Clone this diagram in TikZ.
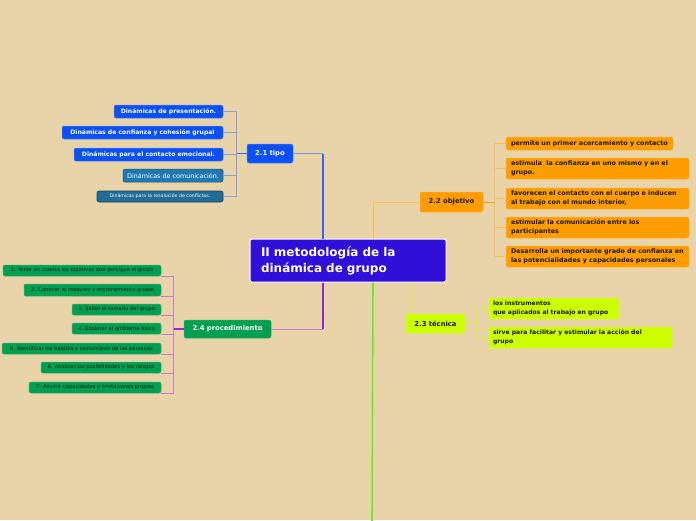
\documentclass[tikz,border=0pt]{standalone}
\usepackage{fontspec}
\setmainfont{DejaVu Sans}
\definecolor{bg}{HTML}{E8D4A8}
\definecolor{cmain}{HTML}{3010D8}
\definecolor{cblue}{HTML}{0A50F5}
\definecolor{cteal}{HTML}{1E78B4}
\definecolor{cteald}{HTML}{226C98}
\definecolor{corange}{HTML}{FF9C00}
\definecolor{clime}{HTML}{CCFF00}
\definecolor{cgreen}{HTML}{00A050}
\definecolor{lblue}{HTML}{8C9EE0}
\definecolor{linkblue}{rgb}{0.2,0.4,1}
\definecolor{lorange}{HTML}{FFBC50}
\definecolor{llime}{HTML}{D8F040}
\definecolor{linkpurple}{rgb}{0.6,0.15,0.85}
\definecolor{lpurple}{HTML}{C878D8}
\definecolor{lgreen}{HTML}{66EE22}
\definecolor{tdark}{HTML}{1A1A1A}
\tikzset{
  box/.style={rounded corners=2pt, inner sep=0pt, align=center},
  mainbox/.style={box, fill=cmain, draw=white, line width=1pt, text=white, font=\bfseries\fontsize{12}{16}\selectfont, align=left, inner xsep=11pt},
  bluebox/.style={box, fill=cblue, draw=cblue!70!white, line width=0.5pt, text=white, font=\bfseries\fontsize{6.1}{7}\selectfont},
  tealbox/.style={box, fill=cteal, draw=cteal!70!black, line width=0.5pt, text=white, font=\fontsize{6.4}{7}\selectfont},
  teal2box/.style={box, fill=cteald, draw=cteald!60!black, line width=0.6pt, text=white, font=\fontsize{4.7}{5}\selectfont},
  orbox/.style={box, fill=corange, draw=corange!80!white, line width=0.5pt, text=tdark, font=\bfseries\fontsize{6.4}{9}\selectfont},
  limebox/.style={box, fill=clime, draw=clime!80!white, line width=0.5pt, text=tdark, font=\bfseries\fontsize{6.1}{9}\selectfont},
  grbox/.style={box, fill=cgreen, draw=cgreen!80!white, line width=0.5pt, text=tdark, font=\fontsize{5.2}{6}\selectfont},
  mainlbl/.style={font=\bfseries\fontsize{6.8}{8}\selectfont},
  conn/.style={line width=0.7pt},
  mainconn/.style={line width=1.2pt},
}
\begin{document}
\begin{tikzpicture}[x=1pt,y=-1pt]
\fill[bg] (0,0) rectangle (696,520);
\useasboundingbox (0,0) rectangle (696,520);

% central
\node[mainbox, minimum width=196pt, minimum height=43pt, text width=174pt] (main) at (348,260.5) {II metodología de la\\dinámica de grupo};

% 2.1 tipo
\node[bluebox, mainlbl, minimum width=46pt, minimum height=19pt] (tipo) at (270,153.5) {2.1 tipo};
\node[bluebox, minimum width=109pt, minimum height=13pt] (a1) at (168.5,111.5) {Dinámicas de presentación.};
\node[bluebox, minimum width=161pt, minimum height=13pt] (a2) at (142.5,132.5) {Dinámicas de confianza y cohesión grupal};
\node[bluebox, minimum width=149pt, minimum height=13pt] (a3) at (148.5,154.5) {Dinámicas para el contacto emocional.};
\node[tealbox, minimum width=100pt, minimum height=13pt] (a4) at (173,175.5) {Dinámicas de comunicación.};
\node[teal2box, minimum width=126pt, minimum height=11pt] (a5) at (160,196.5) {Dinámicas para la resolución de conflictos.};
\coordinate (bt) at (236,153.5);
\coordinate (kt) at ([xshift=-25pt]main.north |- tipo.east);
\draw[mainconn, draw=linkblue] ([xshift=-25pt]main.north) -- (kt);
\draw[conn, draw=lblue!80!linkblue] (kt) -- (tipo.east);
\draw[line width=1pt, draw=linkblue] (tipo.west) -- (bt);
\foreach \n in {a1,a2,a3,a4,a5} \draw[conn, draw=lblue] (bt) |- (\n.east);

% 2.2 objetivo
\node[orbox, mainlbl, minimum width=63pt, minimum height=20pt] (obj) at (451.5,202) {2.2 objetivo};
\node[orbox, minimum width=167pt, minimum height=13pt, text width=157pt, inner xsep=5pt, align=left] (b1) at (589.5,143.5) {permite un primer acercamiento y contacto};
\node[orbox, minimum height=21pt, text width=173pt, inner xsep=5pt, align=left] (b2) at (597.5,168.5) {estimula\ \ la confianza en uno mismo y en el\\grupo.};
\node[orbox, minimum height=21pt, text width=173pt, inner xsep=5pt, align=left] (b3) at (597.5,198.5) {favorecen el contacto con el cuerpo e inducen\\al trabajo con el mundo interior,};
\node[orbox, minimum height=21pt, text width=173pt, inner xsep=5pt, align=left] (b4) at (597.5,227.5) {estimular la comunicación entre los\\participantes};
\node[orbox, minimum height=21pt, text width=173pt, inner xsep=5pt, align=left] (b5) at (597.5,256.5) {Desarrolla un importante grado de confianza en\\las potencialidades y capacidades personales};
\coordinate (bo) at (494,202);
\draw[conn, draw=lorange] ([xshift=25pt]main.north) |- (obj.west);
\draw[line width=1pt, draw=corange] (obj.east) -- (bo);
\foreach \n in {b1,b2,b3,b4,b5} \draw[conn, draw=lorange] (bo) |- (\n.west);

% 2.3 tecnica
\node[limebox, mainlbl, minimum width=59pt, minimum height=19pt] (tec) at (435.5,323.5) {2.3 técnica};
\node[limebox, minimum height=21pt, text width=122pt, inner xsep=4pt, align=left] (c1) at (554,308.5) {los instrumentos\\que aplicados al trabajo en grupo};
\node[limebox, minimum height=21pt, text width=175pt, inner xsep=4pt, align=left] (c2) at (580.5,337.5) {sirve para facilitar y estimular la acción del\\grupo};
\coordinate (bc) at (477,323.5);
\draw[conn, draw=llime] ([xshift=62pt]main.south) -- ([xshift=62pt]main.south |- tec.north);
\draw[conn, draw=llime] (tec.east) -- (bc);
\foreach \n in {c1,c2} \draw[conn, draw=llime] (bc) |- (\n.west);

% 2.4 procedimiento
\node[grbox, mainlbl, text=white, minimum width=87pt, minimum height=18pt] (proc) at (227.5,329) {2.4 procedimiento};
\node[grbox, minimum width=158pt, minimum height=11pt] (d1) at (82,270.5) {1. Tener en cuenta los objetivos que persigue el grupo};
\node[grbox, minimum width=137pt, minimum height=12pt] (d2) at (92.5,290) {2. Conocer la madurez y entrenamiento grupal};
\node[grbox, minimum width=89pt, minimum height=11pt] (d3) at (116.5,309.5) {3. Saber el tamaño del grupo};
\node[grbox, minimum width=89pt, minimum height=11pt] (d4) at (116.5,328.5) {4. Explorar el ambiente físico};
\node[grbox, minimum width=159pt, minimum height=11pt] (d5) at (81.5,348.5) {5. Identificar los hábitos y costumbres de las personas};
\node[grbox, minimum width=120pt, minimum height=11pt] (d6) at (101,367.5) {6. Analizar las posibilidades y los riesgos};
\node[grbox, minimum width=132pt, minimum height=11pt] (d7) at (95,387.5) {7. Asumir capacidades y limitaciones propias};
\coordinate (bp) at (173,329);
\coordinate (kp) at ([xshift=-25pt]main.south |- proc.east);
\draw[mainconn, draw=linkpurple] ([xshift=-25pt]main.south) -- (kp);
\draw[conn, draw=lpurple] (kp) -- (proc.east);
\draw[line width=1.2pt, draw=linkpurple] (proc.west) -- (bp);
\foreach \n in {d1,d2,d3,d4,d5,d6,d7} \draw[conn, draw=lpurple] (bp) |- (\n.south east);

% green branch
\coordinate (gend) at (372,521);
\draw[line width=1.6pt, draw=lgreen] ([xshift=25pt]main.south) -- (gend);
\end{tikzpicture}
\end{document}
